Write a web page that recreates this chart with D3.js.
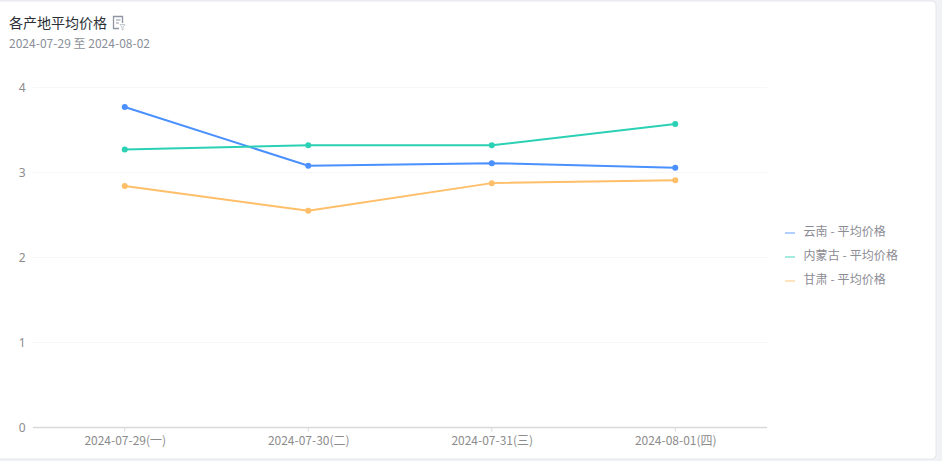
<!DOCTYPE html>
<html><head><meta charset="utf-8">
<script src="https://cdn.jsdelivr.net/npm/d3@7/dist/d3.min.js"></script>
<style>html,body{margin:0;padding:0;background:#f0f2f5;overflow:hidden}svg{display:block}text{font-family:"Noto Sans CJK SC","Noto Sans",sans-serif}</style>
</head><body><svg id="c" width="942" height="461"></svg>
<script>
const categories=["2024-07-29(一)","2024-07-30(二)","2024-07-31(三)","2024-08-01(四)"];
const yTicks=[0,1,2,3,4];
const seriesNames=["云南 - 平均价格","内蒙古 - 平均价格","甘肃 - 平均价格"];
const yunnan=[3.77,3.08,3.11,3.055];
const neimenggu=[3.27,3.32,3.32,3.57];
const gansu=[2.84,2.55,2.875,2.91];
const colors=["#4a90ff","#2bd1b4","#ffbe68"];
const title="各产地平均价格", subtitle="2024-07-29 至 2024-08-02";

const svg=d3.select("#c");
svg.append("rect").attr("x",-3).attr("y",1).attr("width",939).attr("height",458).attr("rx",4).attr("fill","#fff").attr("stroke","#e4e6ec");
svg.append("text").attr("x",9).attr("y",28).attr("font-size",14).attr("fill","#2b2f36").text(title);
const ic=svg.append("g").attr("fill","none").attr("stroke","#8f95a3").attr("stroke-width",1.3);
ic.append("path").attr("d",d3.line()([[122.5,23],[122.5,16.5],[113.5,16.5],[113.5,28.5],[119,28.5]]));
ic.append("path").attr("d",d3.line()([[116,20],[120.5,20]])).attr("stroke-width",1);
ic.append("path").attr("d",d3.line()([[116,23],[119,23]])).attr("stroke-width",1);
ic.append("path").attr("d",d3.line()([[120,24.5],[125,24.5],[123,27],[123,30],[122,29.5],[122,27],[120,24.5]])).attr("stroke","#c6cad2").attr("stroke-width",1);
svg.append("text").attr("x",9).attr("y",48).attr("font-size",12).attr("letter-spacing",0.02).attr("fill","#8a8f99").text(subtitle);

const x=d3.scaleBand().domain(categories).range([33,767]);
const y=d3.scaleLinear().domain([0,4]).range([427.5,87.5]);
svg.append("g").selectAll("line").data(yTicks.filter(d=>d>0)).join("line")
 .attr("x1",33).attr("x2",767).attr("y1",d=>y(d)).attr("y2",d=>y(d))
 .attr("stroke","#f7f7f9").attr("stroke-width",1.2);
const ay=svg.append("g").attr("transform","translate(33,0)").call(d3.axisLeft(y).tickValues(yTicks).tickFormat(d3.format("d")).tickSize(0).tickPadding(7.5));
ay.select(".domain").remove();
ay.selectAll("text").attr("font-size",12).attr("fill","#8c8c8c").style("font-family","'Noto Sans',sans-serif");
const ax=svg.append("g").attr("transform","translate(0,427.5)").call(d3.axisBottom(x).tickSize(4).tickPadding(5));
ax.select(".domain").attr("stroke","#d9d9d9").attr("stroke-width",1.5).attr("d","M33,0H767");
ax.selectAll("line").attr("stroke","#d9d9d9");
ax.selectAll("text").attr("font-size",12).attr("dx",0.5).attr("fill","#8c8c8c");

const line=d3.line().x((d,i)=>x(categories[i])+x.bandwidth()/2).y(d=>y(d));
[yunnan,neimenggu,gansu].forEach((s,k)=>{
 const g=svg.append("g");
 g.append("path").attr("d",line(s)).attr("fill","none").attr("stroke",colors[k]).attr("stroke-width",2);
 g.selectAll("circle").data(s).join("circle").attr("cx",(d,i)=>x(categories[i])+x.bandwidth()/2).attr("cy",d=>y(d)).attr("r",3).attr("fill",colors[k]);
});
const lg=svg.append("g").selectAll("g").data(seriesNames).join("g").attr("transform",(d,i)=>`translate(785,${232+i*24})`);
lg.append("line").attr("x1",0).attr("x2",10).attr("y1",1).attr("y2",1).attr("stroke",(d,i)=>colors[i]).attr("stroke-width",1.4).attr("opacity",.6);
lg.append("text").attr("x",18.5).attr("y",3.5).attr("font-size",12).attr("letter-spacing",0.1).attr("fill","#8c8c94").text(d=>d);
</script></body></html>
